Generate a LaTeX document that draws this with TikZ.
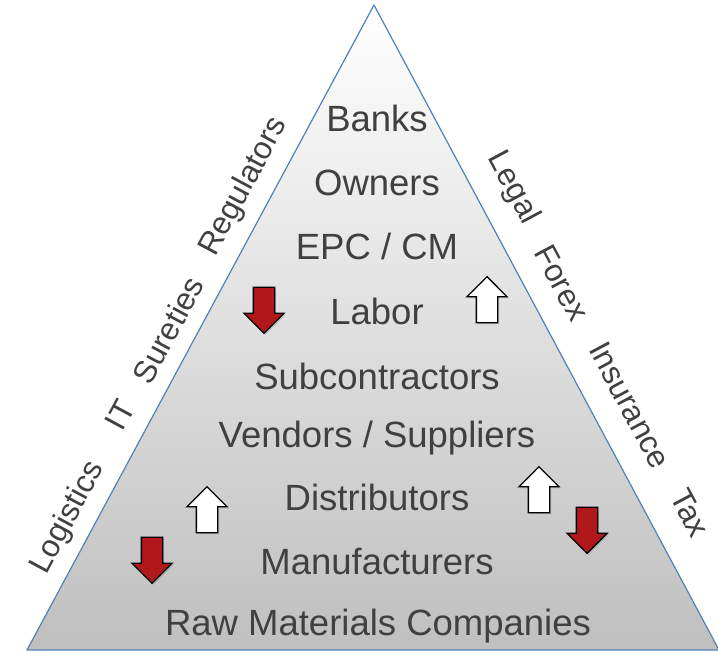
\documentclass[tikz,border=0pt]{standalone}
\usepackage{fontspec}
\setmainfont{Liberation Sans}
\usetikzlibrary{shapes.arrows, shadows}
\definecolor{edgeblue}{RGB}{79,129,189}
\definecolor{textgray}{RGB}{64,64,64}
\definecolor{arrowred}{RGB}{176,24,28}

\begin{document}
\begin{tikzpicture}[
    x=1pt, y=1pt,
    tier/.style={text=textgray, font=\fontsize{36.5}{40}\selectfont, inner sep=0pt},
    side/.style={text=textgray, font=\fontsize{31.5}{36}\selectfont, inner sep=0pt},
    blockarrow/.style={draw=black, line width=1.3pt, shape=single arrow, inner sep=10pt, single arrow head extend=9.5pt, minimum height=46pt, drop shadow={shadow xshift=1.5pt, shadow yshift=-1.5pt, opacity=0.35}},
    uparrow/.style={blockarrow, fill=white, shape border rotate=90},
    downarrow/.style={blockarrow, fill=arrowred, shape border rotate=270}
]
    \useasboundingbox (0,0) rectangle (718,-652);

    % pyramid
    \coordinate (apex) at (374,-5);
    \coordinate (left) at (27,-650);
    \coordinate (right) at (719,-650);
    \shade[top color=white, bottom color=black!25] (apex) -- (left) -- (right) -- cycle;
    \draw[edgeblue, line width=1.2pt, line join=round] (apex) -- (left) -- (right) -- cycle;

    % tiers
    \node[tier] (banks) at (377,-118) {Banks};
    \node[tier] (owners) at (377,-183) {Owners};
    \node[tier] (epc) at (377,-246) {EPC / CM};
    \node[tier] (labor) at (377,-311) {Labor};
    \node[tier] (subs) at (377,-376) {Subcontractors};
    \node[tier] (vendors) at (377,-438) {Vendors / Suppliers};
    \node[tier] (distrib) at (377,-497) {Distributors};
    \node[tier] (manuf) at (377,-561) {Manufacturers};
    \node[tier] (raw) at (378,-626) {Raw Materials Companies};

    % outside the pyramid, left
    \node[side, rotate=61.7] (logistics) at (68,-518) {Logistics};
    \node[side, rotate=61.7] (it) at (120,-415) {IT};
    \node[side, rotate=61.7] (sureties) at (168,-330) {Sureties};
    \node[side, rotate=61.7] (regulators) at (244,-187) {Regulators};

    % outside the pyramid, right
    \node[side, rotate=-61.9] (legal) at (513,-188) {Legal};
    \node[side, rotate=-61.9] (forex) at (562,-283) {Forex};
    \node[side, rotate=-61.9] (insurance) at (630,-405) {Insurance};
    \node[side, rotate=-61.9] (tax) at (690,-513) {Tax};

    % block arrows
    \node[downarrow] (down1) at (264,-305) {};
    \node[uparrow] (up1) at (487,-305) {};
    \node[uparrow] (up2) at (207,-515) {};
    \node[downarrow] (down2) at (152,-555) {};
    \node[uparrow] (up3) at (539,-495) {};
    \node[downarrow] (down3) at (587,-525) {};
\end{tikzpicture}
\end{document}
